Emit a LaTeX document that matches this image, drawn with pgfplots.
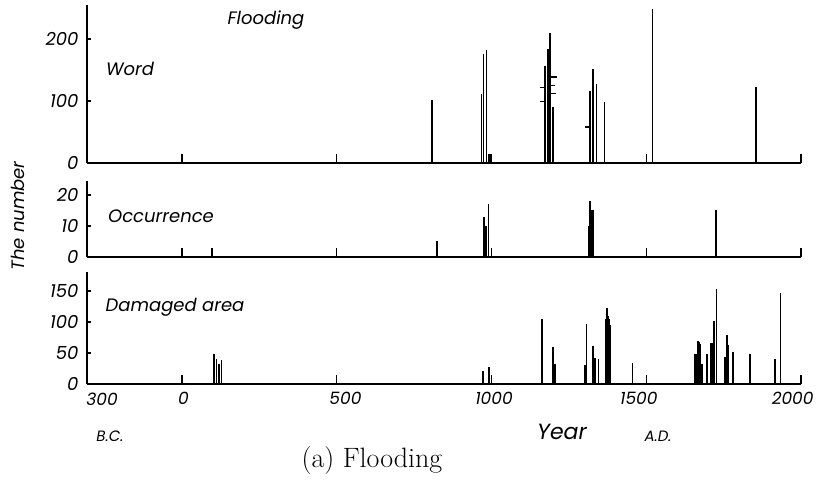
\documentclass[border=0pt]{standalone}
\usepackage{fontspec}
\usepackage{pgfplots}
\pgfplotsset{compat=1.18}
\newfontfamily\labfont{Poppins}
\newcommand{\lf}[1]{\labfont\itshape\fontsize{#1}{#1}\selectfont}
\begin{document}
\begin{tikzpicture}[x=1pt,y=1pt]
\useasboundingbox (0,0) rectangle (818,489);
\pgfplotsset{
  panel/.style={
    scale only axis, width=714pt, xmin=-307, xmax=2000,
    axis lines=left, axis line style={-, line width=1.4pt},
    tick align=inside,
    xtick={0,500,1000,1500,2000}, xticklabels={},
    x tick style={line width=1.3pt, /pgfplots/major tick length=9pt, black},
    y tick style={line width=1.2pt, /pgfplots/major tick length=4pt, black},
    tick label style={font=\lf{18}},
    /pgf/number format/assume math mode=true,
    /pgf/number format/1000 sep={},
    yticklabel style={xshift=-5pt},
    clip=false,
    anchor=south west,
  },
  bars/.style={ycomb, no marks, black, line width=1.7pt},
}
% ---------- Word ----------
\begin{axis}[panel, at={(87pt,326pt)}, height=158pt, ymin=0, ymax=255, ytick={0,100,200}]
\addplot[bars] coordinates {
(808,102) (968,112) (974,176) (984,183) (991,15) (996,15)
(1173,157) (1183,184) (1188,209) (1198,91)
(1318,116) (1329,151) (1339,127) (1365,98)
(1520,248) (1855,123)};
\addplot[only marks, mark=-, mark size=3pt, black, line width=1.3pt] coordinates {
(1201,139) (1197,125) (1199,112) (1166,122) (1165,99) (1313,58)};
\end{axis}
% ---------- Occurrence ----------
\begin{axis}[panel, at={(87pt,232pt)}, height=76pt, ymin=0, ymax=24.5, ytick={0,10,20}]
\addplot[bars] coordinates {
(97,3) (824,5) (976,13) (982,10) (990,17)
(1315,10) (1319,18) (1324,15) (1328,15) (1725,15)};
\end{axis}
% ---------- Damaged area ----------
\begin{axis}[panel, at={(87pt,105pt)}, height=112pt, ymin=0, ymax=180.6, ytick={0,50,100,150},
  extra x ticks={-258,5,528,1008,1476,1973},
  extra x tick labels={300,0,500,1000,1500,2000},
  extra x tick style={xtick style={draw=none}, tick label style={font=\lf{17}, yshift=-5pt}}]
\addplot[bars] coordinates {
(104,49) (111,40) (119,32) (128,39) (972,21) (993,27)
(1164,105) (1198,60) (1204,33) (1303,31) (1307,96)
(1328,61) (1334,42) (1346,40)
(1368,90) (1371,105) (1374,122) (1377,110) (1380,105) (1384,95)
(1456,34) (1657,48) (1661,48) (1665,48) (1668,70) (1671,68) (1675,65) (1681,32)
(1697,49) (1710,66) (1713,66) (1718,102) (1727,153)
(1755,44) (1761,79) (1765,63) (1780,51) (1835,48) (1915,40) (1934,146)};
\end{axis}
% ---------- texts ----------
\node[font=\lf{18}] at (266,469) {Flooding};
\node[font=\lf{18}] at (130,420) {Word};
\node[font=\lf{18}] at (161,273) {Occurrence};
\node[font=\lf{18}] at (175,182) {Damaged area};
\node[font=\lf{18}, rotate=90] at (18,273) {The number};
\node[font=\lf{15}] at (110,53) {B.C.};
\node[font=\lf{22}] at (562,57) {Year};
\node[font=\lf{15}] at (658,53) {A.D.};
\node[font=\fontsize{28}{28}\selectfont] at (372,28) {(a) Flooding};
\end{tikzpicture}
\end{document}
